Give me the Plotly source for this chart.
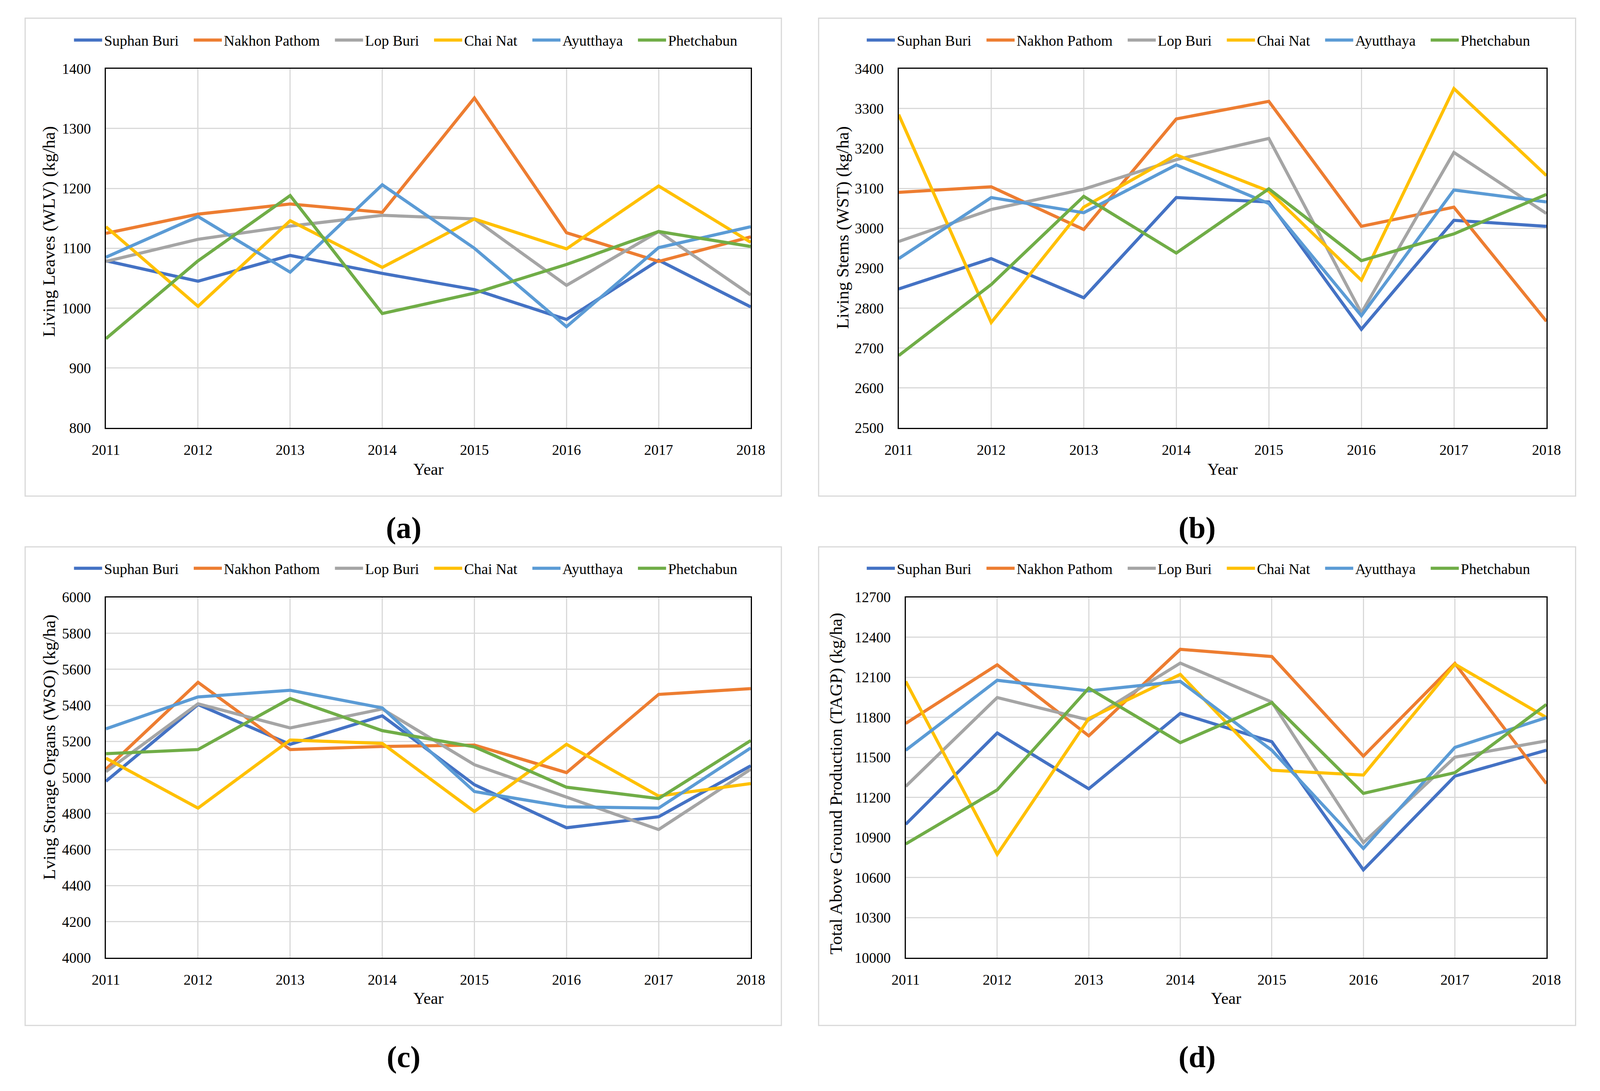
import plotly.graph_objects as go

years = [2011, 2012, 2013, 2014, 2015, 2016, 2017, 2018]
provinces = ["Suphan Buri", "Nakhon Pathom", "Lop Buri", "Chai Nat", "Ayutthaya", "Phetchabun"]
colors = ["#4472C4", "#ED7D31", "#A5A5A5", "#FFC000", "#5B9BD5", "#70AD47"]

# (a) Living Leaves WLV (kg/ha)
wlv_suphan = [1079, 1045, 1088, 1058, 1031, 981, 1080, 1002]
wlv_nakhon = [1125, 1157, 1174, 1160, 1351, 1126, 1078, 1119]
wlv_lopburi = [1078, 1115, 1137, 1155, 1149, 1038, 1128, 1022]
wlv_chainat = [1136, 1003, 1146, 1068, 1149, 1099, 1204, 1110]
wlv_ayutthaya = [1085, 1153, 1060, 1206, 1100, 969, 1101, 1136]
wlv_phetchabun = [949, 1079, 1188, 991, 1025, 1073, 1128, 1103]

# (b) Living Stems WST (kg/ha)
wst_suphan = [2848, 2924, 2826, 3077, 3066, 2747, 3020, 3005]
wst_nakhon = [3090, 3104, 2997, 3274, 3318, 3005, 3053, 2767]
wst_lopburi = [2967, 3047, 3098, 3172, 3225, 2788, 3190, 3037]
wst_chainat = [3285, 2764, 3053, 3184, 3093, 2870, 3350, 3132]
wst_ayutthaya = [2924, 3077, 3039, 3159, 3062, 2781, 3096, 3066]
wst_phetchabun = [2681, 2859, 3080, 2938, 3099, 2919, 2986, 3085]

# (c) Living Storage Organs WSO (kg/ha)
wso_suphan = [4979, 5405, 5184, 5342, 4960, 4721, 4782, 5065]
wso_nakhon = [5046, 5528, 5155, 5172, 5180, 5027, 5461, 5493]
wso_lopburi = [5032, 5409, 5275, 5380, 5071, 4893, 4711, 5046]
wso_chainat = [5107, 4830, 5208, 5189, 4811, 5184, 4897, 4966]
wso_ayutthaya = [5270, 5447, 5484, 5386, 4922, 4837, 4830, 5164]
wso_phetchabun = [5132, 5155, 5438, 5260, 5170, 4946, 4883, 5205]

# (d) Total Above Ground Production TAGP (kg/ha)
tagp_suphan = [10999, 11683, 11265, 11830, 11618, 10658, 11360, 11554]
tagp_nakhon = [11755, 12194, 11662, 12310, 12256, 11510, 12204, 11304]
tagp_lopburi = [11283, 11949, 11781, 12207, 11915, 10862, 11502, 11624]
tagp_chainat = [12070, 10774, 11791, 12122, 11404, 11368, 12199, 11799]
tagp_ayutthaya = [11554, 12078, 11998, 12070, 11554, 10818, 11575, 11799]
tagp_phetchabun = [10852, 11257, 12019, 11611, 11910, 11231, 11386, 11897]

y_titles = ["Living Leaves (WLV) (kg/ha)", "Living Stems (WST) (kg/ha)",
            "Lving Storage Organs (WSO) (kg/ha)", "Total Above Ground Production (TAGP) (kg/ha)"]
captions = ["(a)", "(b)", "(c)", "(d)"]
y_ranges = [(800, 1400, 100), (2500, 3400, 100), (4000, 6000, 200), (10000, 12700, 300)]

panels = [
    [wlv_suphan, wlv_nakhon, wlv_lopburi, wlv_chainat, wlv_ayutthaya, wlv_phetchabun],
    [wst_suphan, wst_nakhon, wst_lopburi, wst_chainat, wst_ayutthaya, wst_phetchabun],
    [wso_suphan, wso_nakhon, wso_lopburi, wso_chainat, wso_ayutthaya, wso_phetchabun],
    [tagp_suphan, tagp_nakhon, tagp_lopburi, tagp_chainat, tagp_ayutthaya, tagp_phetchabun],
]

# reference frame (positions measured on the 4260x2792 reference)
REF_W, REF_H = 4260, 2792
# the browser viewport is 4096 px wide; the figure is resized to the viewport in JS
FIG_W, FIG_H = 4096, 2792
FONT = "Liberation Serif"
NB = "\u00a0"

plot_px = [  # x0, x1, y0(top), y1(bottom)
    (249, 1997, 158, 1091),
    (2398, 4154, 158, 1091),
    (249, 1997, 1531, 2467),
    (2417, 4154, 1531, 2467),
]
box_px = [
    (30, 2080, 27, 1268),
    (2181, 4233, 27, 1268),
    (30, 2080, 1400, 2643),
    (2181, 4233, 1400, 2643),
]
legend_px = [(1062, 84), (3211, 84), (1062, 1456), (3211, 1456)]
ytitle_px = [(95, 581), (2246, 571), (95, 1920), (2228, 2015)]
xtitle_y = [1199, 1199, 2573, 2573]
caption_px = [(1056, 1350), (3207, 1350), (1056, 2725), (3207, 2725)]

def px(x):
    return x / REF_W

def py(y):
    return 1 - y / REF_H

fig = go.Figure()
layout = dict(
    width=FIG_W, height=FIG_H, autosize=False,
    margin=dict(l=0, r=0, t=0, b=0, pad=0),
    paper_bgcolor="white", plot_bgcolor="white",
    font=dict(family=FONT, size=37, color="black"),
    shapes=[], annotations=[],
)

for k in range(4):
    sfx = "" if k == 0 else str(k + 1)
    xa = "x" + sfx
    ya = "y" + sfx
    leg = "legend" + sfx
    for i, name in enumerate(provinces):
        label = name + (NB * 3 if i < len(provinces) - 1 else "")
        fig.add_trace(go.Scatter(
            x=years, y=panels[k][i], name=label, mode="lines",
            line=dict(color=colors[i], width=8),
            xaxis=xa, yaxis=ya, legend=leg, showlegend=True,
        ))
    x0, x1, y0, y1 = plot_px[k]
    lo, hi, dt = y_ranges[k]
    layout["xaxis" + sfx] = dict(
        domain=[px(x0), px(x1)], anchor=ya, range=[2011, 2018],
        tickmode="array", tickvals=years, ticktext=[str(v) for v in years],
        showgrid=True, gridcolor="#d9d9d9", gridwidth=2.5,
        showline=True, mirror=True, linecolor="black", linewidth=3,
        ticks="", ticklabelstandoff=22, zeroline=False,
        tickfont=dict(family=FONT, size=37),
    )
    layout["yaxis" + sfx] = dict(
        domain=[py(y1), py(y0)], anchor=xa, range=[lo, hi], dtick=dt, tick0=lo,
        tickformat="d",
        showgrid=True, gridcolor="#d9d9d9", gridwidth=2.5,
        showline=True, mirror=True, linecolor="black", linewidth=3,
        ticks="", ticklabelstandoff=28, zeroline=False,
        tickfont=dict(family=FONT, size=37),
    )
    lx, ly = legend_px[k]
    layout[leg] = dict(
        orientation="h", x=px(lx), y=py(ly), xanchor="center", yanchor="middle",
        xref="paper", yref="paper", font=dict(family=FONT, size=38),
        itemwidth=72, bgcolor="rgba(0,0,0,0)", traceorder="normal",
    )
    bx0, bx1, by0, by1 = box_px[k]
    layout["shapes"].append(dict(
        type="rect", xref="paper", yref="paper",
        x0=px(bx0), x1=px(bx1), y0=py(by1), y1=py(by0),
        line=dict(color="#d9d9d9", width=3), fillcolor="rgba(0,0,0,0)", layer="below",
    ))
    tx, ty = ytitle_px[k]
    layout["annotations"].append(dict(
        text=y_titles[k], xref="paper", yref="paper", x=px(tx), y=py(ty),
        xanchor="center", yanchor="middle", textangle=-90, showarrow=False,
        font=dict(family=FONT, size=45),
    ))
    layout["annotations"].append(dict(
        text="Year", xref="paper", yref="paper", x=px((x0 + x1) / 2), y=py(xtitle_y[k]),
        xanchor="center", yanchor="middle", showarrow=False,
        font=dict(family=FONT, size=42),
    ))
    cx, cy = caption_px[k]
    layout["annotations"].append(dict(
        text="<b>" + captions[k] + "</b>", xref="paper", yref="paper", x=px(cx), y=py(cy),
        xanchor="center", yanchor="middle", showarrow=False,
        font=dict(family=FONT, size=78),
    ))

fig.update_layout(**layout)

post_js = """
document.body.style.margin='0';
document.body.style.padding='0';
document.documentElement.style.overflow='hidden';
document.body.style.overflow='hidden';
var gd = document.getElementById('{plot_id}');
var w = window.innerWidth, h = window.innerHeight;
if (w > 0 && h > 0 && (w !== gd.layout.width || h !== gd.layout.height)) {
    Plotly.relayout(gd, {width: w, height: h});
}
"""
fig.write_html("out.html", post_script=post_js, config={"displayModeBar": False})
